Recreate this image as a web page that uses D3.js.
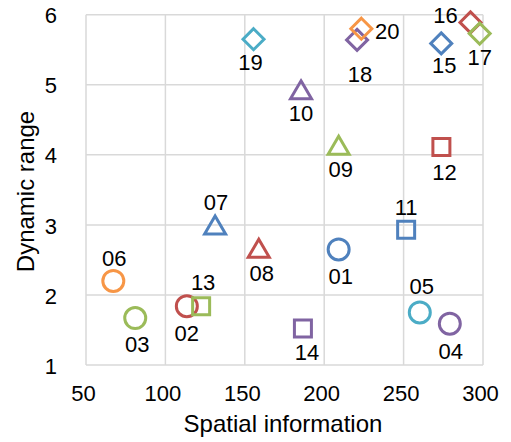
<!DOCTYPE html>
<html>
<head>
<meta charset="utf-8">
<script src="https://cdn.jsdelivr.net/npm/d3@7"></script>
<style>
  body { margin: 0; background: #fff; }
  text { font-family: Arial, "Liberation Sans", sans-serif; fill: #000; }
</style>
</head>
<body>
<div id="container"></div>
<script>
//DATA
const ids = ["01","02","03","04","05","06","07","08","09","10",
             "11","12","13","14","15","16","17","18","19","20"];
const spatial = [209.1, 113.5, 81, 279.1, 260.2, 67.2, 131.3, 158.8, 209.1, 185.4,
                 251.6, 273.8, 122.5, 186.6, 273.7, 292.1, 297.9, 220.7, 155.5, 223.4];
const dynRange = [2.65, 1.84, 1.67, 1.59, 1.75, 2.2, 2.99, 2.66, 4.13, 4.92,
                  2.93, 4.11, 1.84, 1.52, 5.59, 5.89, 5.73, 5.64, 5.65, 5.8];
const shapes = ["circle","circle","circle","circle","circle","circle",
                "triangle","triangle","triangle","triangle",
                "square","square","square","square",
                "diamond","diamond","diamond","diamond","diamond","diamond"];
const colorNames = ["blue","red","green","purple","aqua","orange",
                    "blue","red","green","purple",
                    "blue","red","green","purple",
                    "blue","red","green","purple","aqua","orange"];
// label offset from marker (layout only)
const labelDx = [2, 0, 2, 1, 2, 1, 1, 3, 2, 0, 0, 3, 2, 4, 3, -25, 0, 3, -3, 26];
const labelDy = [27, 27, 26, 27, -26, -23, -24, 24, 23, 23, -23, 25, -24, 24, 22, -7, 23, 34, 23, 2];

const xTicks = [50, 100, 150, 200, 250, 300];
const yTicks = [1, 2, 3, 4, 5, 6];

//CONSTANTS
const width = 511, height = 442;
const margin = {top: 14.7, bottom: 77, left: 86, right: 28};
const palette = {blue: "#4F81BD", red: "#C0504D", green: "#9BBB59",
                 purple: "#8064A2", aqua: "#4BACC6", orange: "#F79646"};

const data = ids.map((id, i) => ({
  id: id, x: spatial[i], y: dynRange[i], shape: shapes[i],
  color: palette[colorNames[i]], dx: labelDx[i], dy: labelDy[i]
}));

//SCALES
const xScale = d3.scaleLinear().domain([50, 300]).range([margin.left, width - margin.right]);
const yScale = d3.scaleLinear().domain([1, 6]).range([height - margin.bottom, margin.top]);

const svg = d3.select("#container").append("svg")
  .attr("width", width).attr("height", height);

// grid
svg.append("g").selectAll("line.v").data(xTicks).join("line")
  .attr("x1", d => xScale(d)).attr("x2", d => xScale(d))
  .attr("y1", yScale(1)).attr("y2", yScale(6))
  .attr("stroke", "#d9d9d9").attr("stroke-width", 1.5);
svg.append("g").selectAll("line.h").data(yTicks).join("line")
  .attr("x1", xScale(50)).attr("x2", xScale(300))
  .attr("y1", d => yScale(d)).attr("y2", d => yScale(d))
  .attr("stroke", "#d9d9d9").attr("stroke-width", 1.5);

// axes (labels only)
const xAxisGroup = svg.append("g")
  .attr("transform", `translate(0, ${yScale(1)})`)
  .call(d3.axisBottom(xScale).tickValues(xTicks).tickSize(0).tickPadding(20));
const yAxisGroup = svg.append("g")
  .attr("transform", `translate(${xScale(50)}, 0)`)
  .call(d3.axisLeft(yScale).tickValues(yTicks).tickFormat(d3.format("d")).tickSize(0).tickPadding(29));
[xAxisGroup, yAxisGroup].forEach(g => {
  g.select(".domain").remove();
  g.selectAll("text").style("font-size", "22px").attr("fill", "#000")
    .style("font-family", "Arial, 'Liberation Sans', sans-serif");
});
xAxisGroup.selectAll("text").attr("dx", -3);
yAxisGroup.selectAll("text").attr("dy", "0.37em");

svg.append("text")
  .attr("x", 283).attr("y", 431.5)
  .attr("text-anchor", "middle").style("font-size", "24px")
  .text("Spatial information");
svg.append("text")
  .attr("transform", "translate(33.5, 191.5) rotate(-90)")
  .attr("text-anchor", "middle").style("font-size", "24px")
  .text("Dynamic range");

// marker shapes
const shapeTypes = {
  circle: { draw(ctx) { ctx.moveTo(10.5, 0); ctx.arc(0, 0, 10.5, 0, 2 * Math.PI); } },
  square: { draw(ctx) { ctx.rect(-8.5, -8.5, 17, 17); } },
  triangle: { draw(ctx) { ctx.moveTo(0, -9.5); ctx.lineTo(10.5, 8.5); ctx.lineTo(-10.5, 8.5); ctx.closePath(); } },
  diamond: { draw(ctx) { ctx.moveTo(0, -10.5); ctx.lineTo(10.5, 0); ctx.lineTo(0, 10.5); ctx.lineTo(-10.5, 0); ctx.closePath(); } }
};

svg.append("g").selectAll("path.pt")
  .data(data)
  .join("path")
  .attr("class", "pt")
  .attr("transform", d => `translate(${xScale(d.x)}, ${yScale(d.y)})`)
  .attr("d", d => d3.symbol().type(shapeTypes[d.shape])())
  .attr("fill", "none")
  .attr("stroke", d => d.color)
  .attr("stroke-width", 3);

svg.append("g").selectAll("text.lbl")
  .data(data)
  .join("text")
  .attr("class", "lbl")
  .attr("x", d => xScale(d.x) + d.dx)
  .attr("y", d => yScale(d.y) + d.dy)
  .attr("dy", "0.36em")
  .attr("text-anchor", "middle")
  .style("font-size", "22px")
  .text(d => d.id);
</script>
</body>
</html>
